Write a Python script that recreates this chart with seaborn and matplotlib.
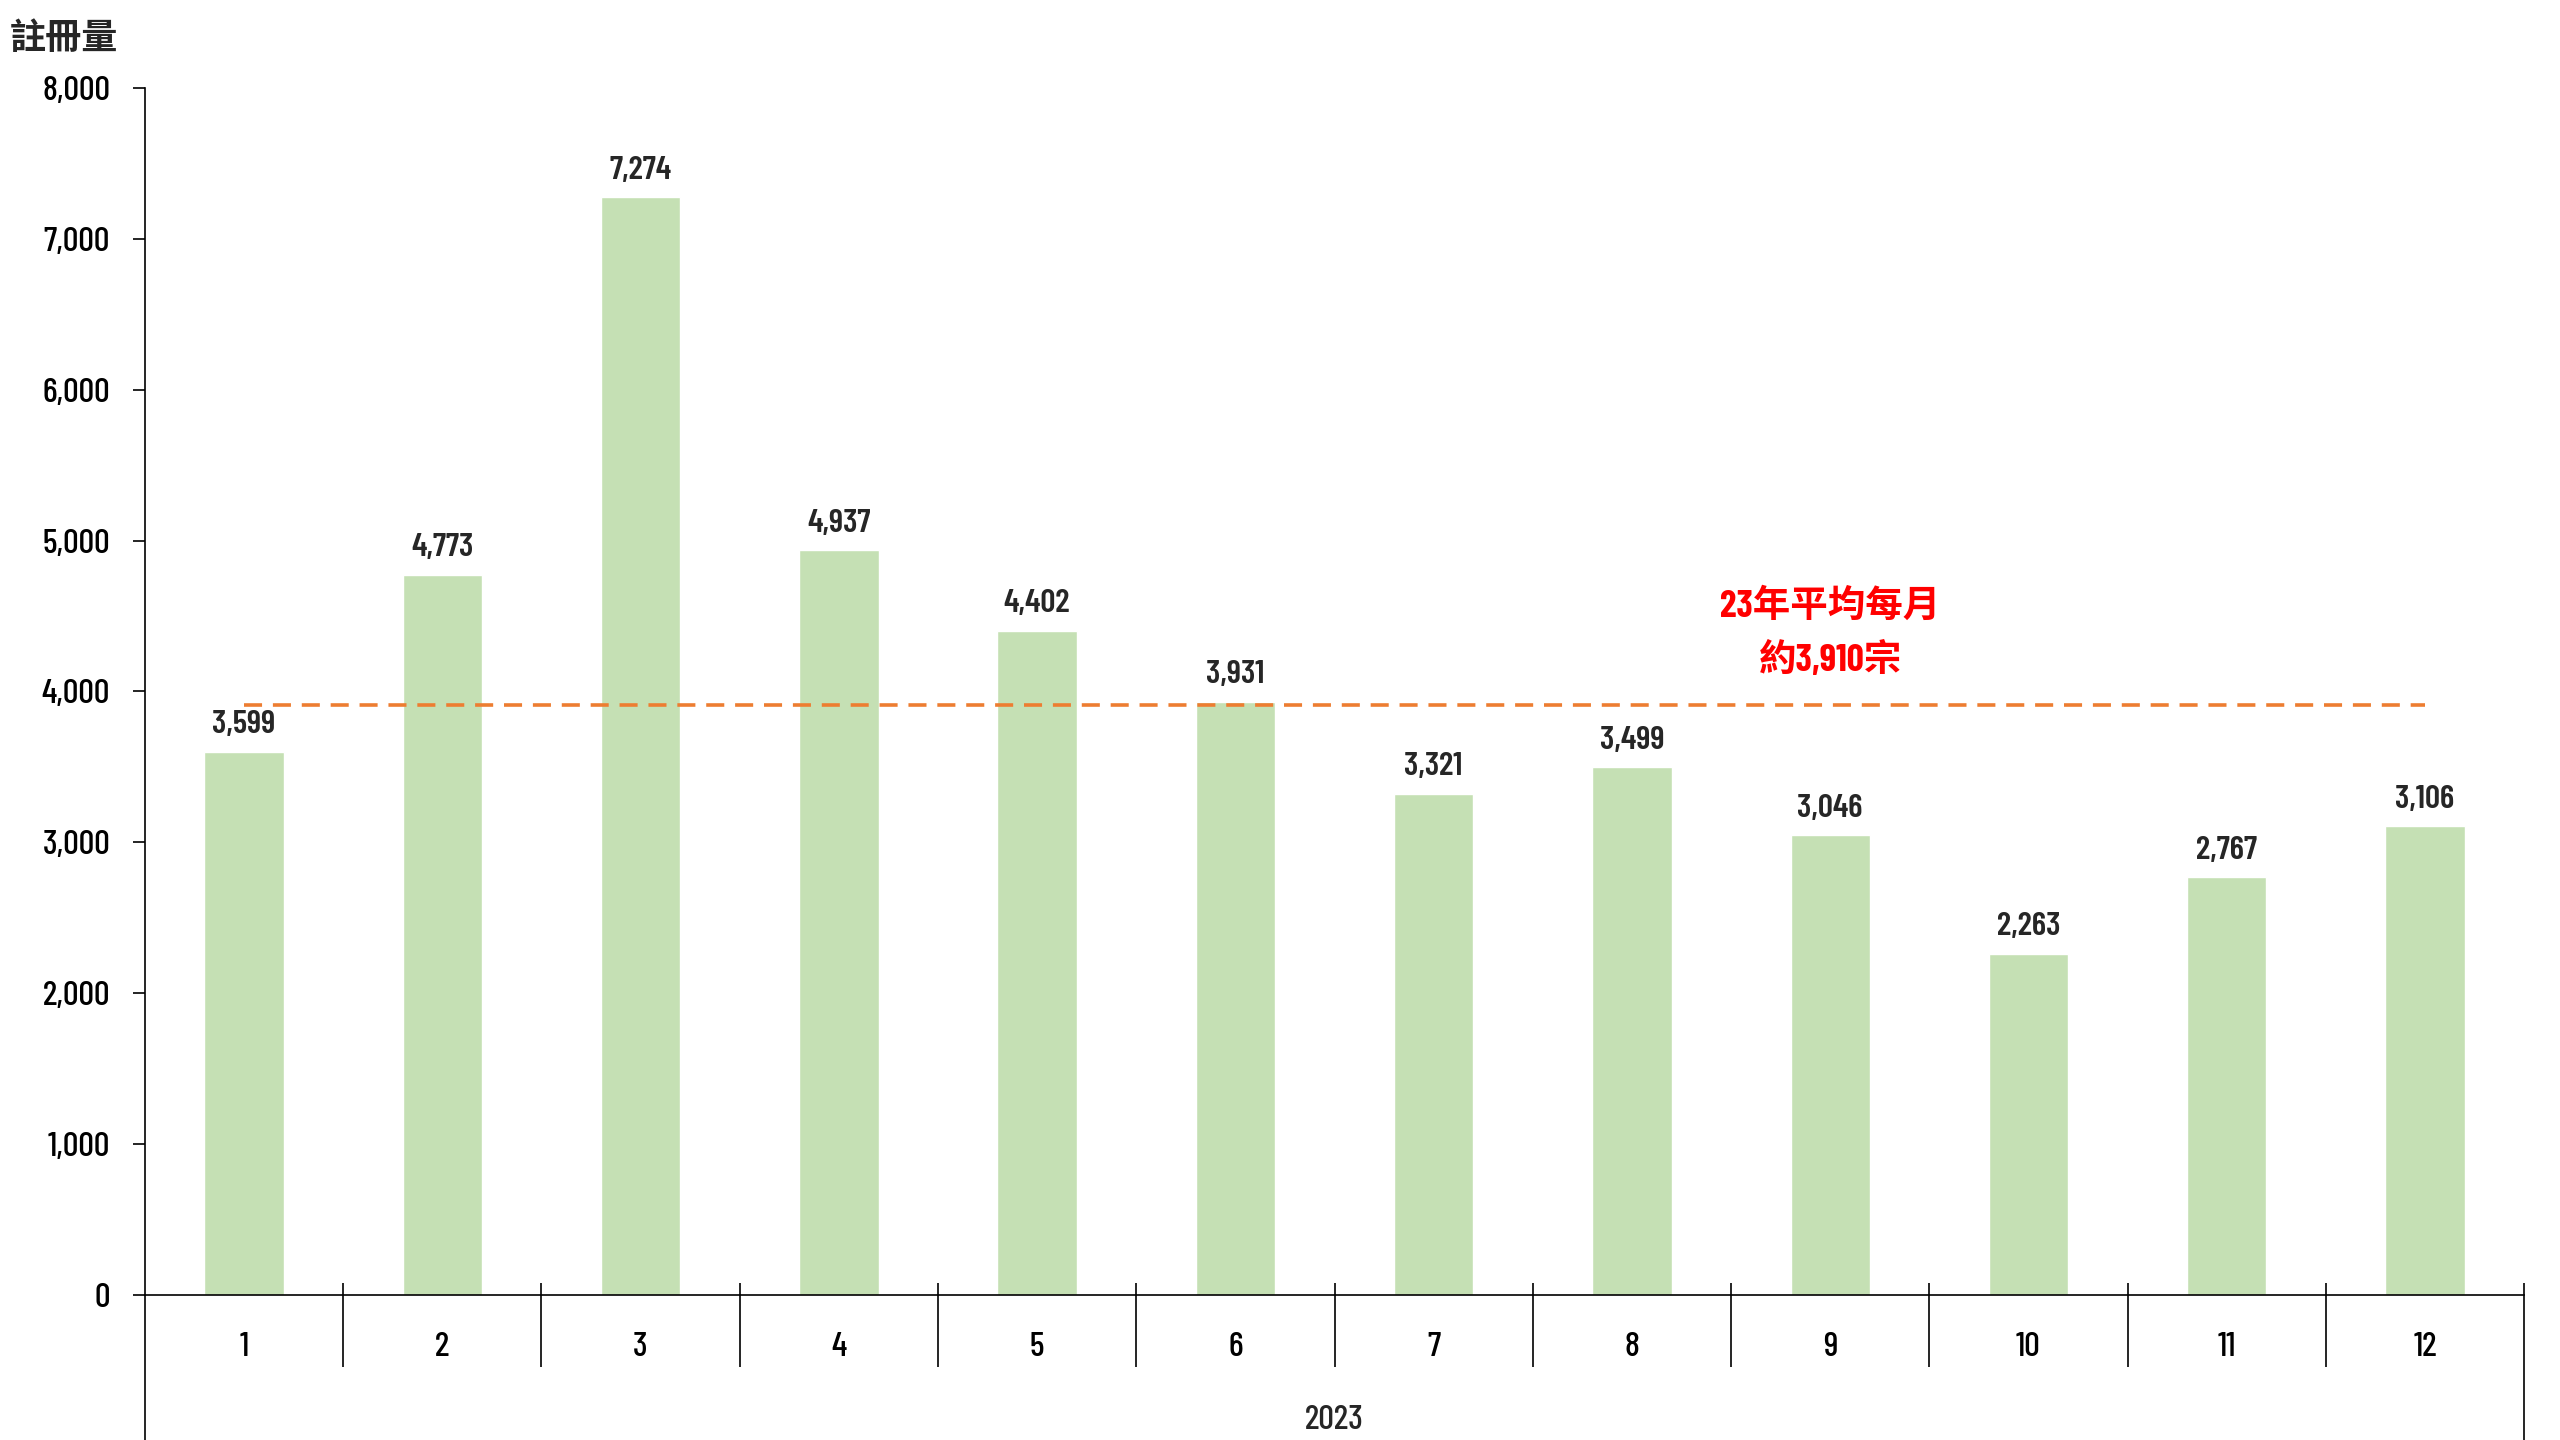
import matplotlib

matplotlib.use("Agg")
import matplotlib.pyplot as plt
import matplotlib.transforms as mtransforms
import pandas as pd
import seaborn as sns

# %%
months = ["1", "2", "3", "4", "5", "6", "7", "8", "9", "10", "11", "12"]
registrations = [3599, 4773, 7274, 4937, 4402, 3931, 3321, 3499, 3046, 2263, 2767, 3106]
year_label = "2023"
monthly_avg = 3910
avg_note = "23年平均每月\n約3,910宗"
y_title = "註冊量"

df = pd.DataFrame({"month": months, "count": registrations})

# %%
sns.set_theme(style="white")
plt.rcParams["font.family"] = [
    "Barlow Condensed",
    "Saira ExtraCondensed",
    "Noto Sans CJK TC",
    "DejaVu Sans",
]

fig = plt.figure(figsize=(25.6, 14.4), dpi=100)
ax = fig.add_axes([0.0566, 0.1007, 0.9294, 0.8383])

sns.barplot(df, x="month", y="count", color="#C5E0B4", width=0.4, saturation=1, ax=ax)

ax.bar_label(ax.containers[0], fmt="{:,.0f}", padding=9, fontsize=24, fontweight="semibold")

ax.hlines(monthly_avg, 0, len(months) - 1, colors="#ED7D31", linewidth=2.6,
          linestyles=(0, (5, 3)), zorder=3)
ax.text(8, monthly_avg + 475, avg_note, ha="center", va="center", color="red",
        fontsize=27, fontweight="bold", linespacing=1.6)

ax.set_xlim(-0.5, len(months) - 0.5)
ax.set_ylim(0, 8000)
ax.set_yticks(range(0, 8001, 1000))
ax.set_yticklabels([f"{v:,}" for v in range(0, 8001, 1000)], fontweight="medium")
ax.set_xticks(range(len(months)))
ax.set_xticklabels(months, fontweight="medium")
ax.set_xlabel("")
ax.set_ylabel("")

for side in ["top", "right"]:
    ax.spines[side].set_visible(False)
for side in ["left", "bottom"]:
    ax.spines[side].set_color("black")
    ax.spines[side].set_linewidth(1.2)

ax.tick_params(axis="y", left=True, length=9, width=1.2, pad=16, labelsize=25, colors="black")
ax.tick_params(axis="x", bottom=False, length=0, pad=27, labelsize=25, colors="black")

# category dividers under the axis
trans = mtransforms.blended_transform_factory(ax.transData, ax.transAxes)
for i in range(len(months)):
    x = i + 0.5
    bottom = -0.125 if i == len(months) - 1 else -0.06
    ax.plot([x, x], [0.01, bottom], transform=trans, color="black", linewidth=1.2,
            clip_on=False, solid_capstyle="butt")
ax.plot([-0.5, -0.5], [0, -0.125], transform=trans, color="black", linewidth=1.2,
        clip_on=False, solid_capstyle="butt")

ax.text((len(months) - 1) / 2, -0.104, year_label, transform=trans, ha="center",
        va="center", fontsize=25, fontweight="medium")

fig.text(0.004, 0.973, y_title, ha="left", va="center", fontsize=26, fontweight="bold")

fig.savefig("out.png", dpi=100)
